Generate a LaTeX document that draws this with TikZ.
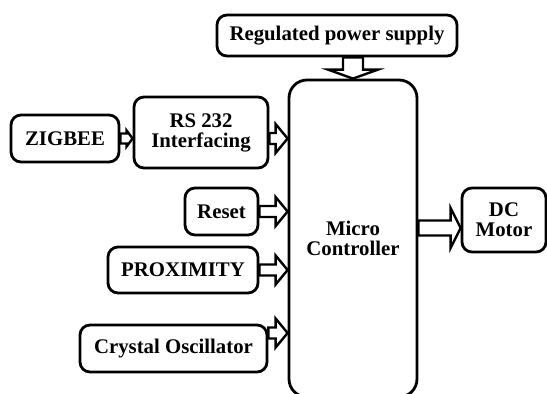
\documentclass[tikz,border=0pt]{standalone}
\usepackage{fontspec}
\setmainfont{Liberation Serif}
\usetikzlibrary{calc}

% hollow block arrows: from, to, shaft half width, head half width, head length
\newcommand\harrow[5]{%
  \draw[blockarrow] let \p1=(#1), \p2=(#2) in
    (\x1,\y1+#3pt) -- (\x2-#5pt,\y1+#3pt) -- (\x2-#5pt,\y1+#4pt) -- (\x2,\y1)
    -- (\x2-#5pt,\y1-#4pt) -- (\x2-#5pt,\y1-#3pt) -- (\x1,\y1-#3pt) -- cycle;}
\newcommand\varrow[5]{%
  \draw[blockarrow] let \p1=(#1), \p2=(#2) in
    (\x1-#3pt,\y1) -- (\x1-#3pt,\y2+#5pt) -- (\x1-#4pt,\y2+#5pt) -- (\x1,\y2)
    -- (\x1+#4pt,\y2+#5pt) -- (\x1+#3pt,\y2+#5pt) -- (\x1+#3pt,\y1) -- cycle;}

\begin{document}
\begin{tikzpicture}[x=1pt, y=-1pt, line width=2.8pt,
    every node/.style={font=\bfseries\fontsize{20.8}{20}\selectfont, align=center},
    blk/.style={draw, rounded corners=10pt, inner sep=0pt},
    blockarrow/.style={draw, fill=white, line width=2.4pt, line join=miter}]
  \useasboundingbox (0,0) rectangle (547,394);
  % blocks
  \node[blk, minimum width=240, minimum height=41] (power) at (337,35.5) {Regulated power supply};
  \node[blk, rounded corners=18pt, minimum width=128, minimum height=317] (mc) at (353,238.5) {Micro\\Controller};
  \node[blk, minimum width=108, minimum height=47] (zigbee) at (65,138.5) {ZIGBEE};
  \node[blk, minimum width=134, minimum height=71] (rs) at (201,132.5) {RS 232\\Interfacing};
  \node[blk, minimum width=73, minimum height=47] (reset) at (221.5,211.5) {Reset};
  \node[blk, minimum width=150, minimum height=46] (prox) at (183,270) {PROXIMITY};
  \node[blk, minimum width=187, minimum height=47] (crystal) at (173.5,348.5) {Crystal Oscillator};
  \node[blk, minimum width=84, minimum height=64] (dc) at (504,220) {DC\\Motor};

  \coordinate (xtal-out) at ($(crystal.east)+(0,-15.5)$);
  \coordinate (dc-in) at ($(dc.west)+(0,8)$);

  % connectors
  \varrow{mc.north |- power.south}{mc.north}{10}{25}{9}
  \harrow{zigbee.east}{zigbee.east -| rs.west}{5}{8}{6}
  \harrow{zigbee.east -| rs.east}{zigbee.east -| mc.west}{5.5}{14.5}{12}
  \harrow{reset.east}{reset.east -| mc.west}{5.5}{14.5}{12}
  \harrow{prox.east}{prox.east -| mc.west}{5.5}{14.5}{12}
  \harrow{xtal-out}{xtal-out -| mc.west}{5.5}{14.5}{12}
  \harrow{dc-in -| mc.east}{dc-in}{7.5}{20}{10}
\end{tikzpicture}
\end{document}
